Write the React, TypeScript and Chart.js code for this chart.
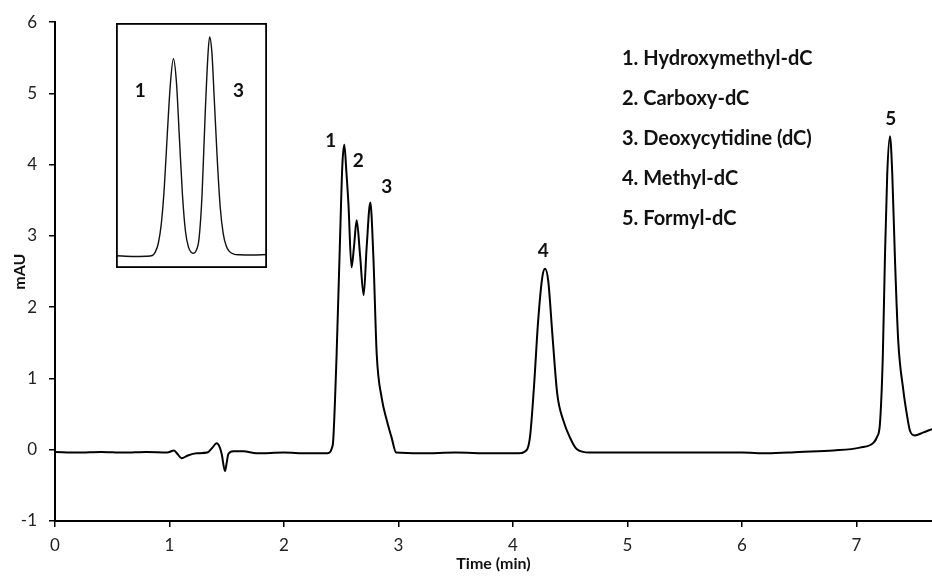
import React, { useEffect, useRef } from 'react';
import { Chart, registerables } from 'chart.js';

Chart.register(...registerables);

// ---- Data ----
const timeMin = [
  0, 0.2, 0.4, 0.6, 0.8, 0.98, 1.04, 1.07, 1.106, 1.16, 1.237, 1.33, 1.37, 1.412, 1.44, 1.456, 1.485, 1.5, 1.514,
  1.557, 1.645, 1.76, 2.0, 2.2, 2.38, 2.42, 2.43, 2.46, 2.49, 2.51, 2.527, 2.545, 2.563, 2.59, 2.611, 2.635,
  2.664, 2.696, 2.722, 2.754, 2.78, 2.81, 2.853, 2.9, 2.94, 2.98, 3.2, 3.5, 3.8, 4.05, 4.1, 4.148, 4.183,
  4.22, 4.256, 4.28, 4.308, 4.346, 4.387, 4.44, 4.498, 4.556, 4.67, 5.0, 5.5, 6.0, 6.22, 6.5, 6.8, 7.03,
  7.15, 7.18, 7.205, 7.23, 7.249, 7.269, 7.293, 7.313, 7.336, 7.365, 7.41, 7.44, 7.467, 7.51, 7.58, 7.66,
];
const absorbance = [
  -0.03, -0.04, -0.03, -0.04, -0.03, -0.04, -0.01, -0.06, -0.12, -0.08, -0.05, -0.04, 0.02, 0.09, 0.03, -0.06, -0.3, -0.18, -0.06,
  -0.02, -0.02, -0.05, -0.04, -0.05, -0.05, 0.03, 0.13, 1.35, 2.98, 4.0, 4.28, 3.9, 3.45, 2.56, 2.84, 3.22,
  2.74, 2.17, 2.84, 3.47, 2.74, 1.34, 0.73, 0.4, 0.17, -0.04, -0.05, -0.04, -0.05, -0.05, -0.03, 0.17, 0.87,
  1.81, 2.42, 2.54, 2.37, 1.58, 0.78, 0.41, 0.17, 0.01, -0.04, -0.04, -0.04, -0.04, -0.05, -0.03, -0.01, 0.03,
  0.1, 0.18, 0.36, 1.29, 2.7, 3.87, 4.4, 3.87, 2.7, 1.53, 0.83, 0.5, 0.27, 0.2, 0.24, 0.29,
];
const xTickValues = [0, 1, 2, 3, 4, 5, 6, 7];

const peakNumbers = ['1', '2', '3', '4', '5'];
const peakLabelTime = [2.408, 2.649, 2.897, 4.265, 7.3];
const peakLabelMAU = [4.33, 4.06, 3.69, 2.79, 4.64];

const compounds = [
  '1. Hydroxymethyl-dC',
  '2. Carboxy-dC',
  '3. Deoxycytidine (dC)',
  '4. Methyl-dC',
  '5. Formyl-dC',
];

// inset trace (relative units 0..100 in both directions)
const insetX = [0, 12, 20, 24, 26, 28, 30, 32, 34, 36, 38, 40, 42, 44, 46, 48, 50, 51.5, 53, 55, 57, 59, 61, 62, 63.5, 65, 67, 69, 71, 73, 75, 78, 82, 90, 100];
const insetY = [5.0, 4.7, 4.8, 5.1, 6.5, 10, 18, 33, 55, 75, 85.4, 76, 53, 30, 15, 8.5, 6.3, 6.0, 7, 12, 30, 62, 88, 94.3, 88, 70, 45, 25, 14, 9, 6.8, 5.7, 5.4, 5.3, 5.5];
const insetLabels = ['1', '3'];
const insetLabelX = [16.1, 81.2];
const insetLabelY = [72.4, 72.4];

const FONT = 'Lato, "Open Sans", "DejaVu Sans", sans-serif';
const INK = '#111';

export default function App() {
  const mainRef = useRef<HTMLCanvasElement | null>(null);
  const insetRef = useRef<HTMLCanvasElement | null>(null);

  useEffect(() => {
    if (!mainRef.current || !insetRef.current) return;

    const labelPlugin = {
      id: 'peakLabels',
      afterDatasetsDraw(chart: any) {
        const { ctx, scales } = chart;
        ctx.save();
        ctx.fillStyle = INK;
        ctx.font = `bold 19px ${FONT}`;
        ctx.textAlign = 'center';
        ctx.textBaseline = 'middle';
        peakNumbers.forEach((p, i) => {
          ctx.fillText(p, scales.x.getPixelForValue(peakLabelTime[i]), scales.y.getPixelForValue(peakLabelMAU[i]));
        });
        ctx.textAlign = 'left';
        ctx.font = `bold 20px ${FONT}`;
        compounds.forEach((c, i) => {
          ctx.fillText(c, 622, 59 + i * 40);
        });
        ctx.restore();
      },
    };

    const main = new Chart(mainRef.current, {
      type: 'line',
      data: {
        datasets: [
          {
            data: timeMin.map((t, i) => ({ x: t, y: absorbance[i] })),
            borderColor: '#000',
            borderWidth: 2,
            pointRadius: 0,
            fill: false,
            cubicInterpolationMode: 'monotone',
          },
        ],
      },
      options: {
        responsive: false,
        animation: false,
        events: [],
        layout: { padding: { top: 21, right: 0, left: 0, bottom: 0 } },
        plugins: { legend: { display: false }, tooltip: { enabled: false } },
        scales: {
          x: {
            type: 'linear',
            min: 0,
            max: 7.66,
            afterBuildTicks: (s: any) => {
              s.ticks = xTickValues.map((v) => ({ value: v }));
            },
            afterFit: (s: any) => {
              s.height = 56;
            },
            ticks: { stepSize: 1, padding: 8, color: '#222', font: { size: 17, family: FONT }, maxRotation: 0, autoSkip: false },
            grid: { drawOnChartArea: false, drawTicks: true, tickLength: 6, color: '#000', lineWidth: 1.5 },
            border: { display: true, color: '#000', width: 2 },
            title: {
              display: true,
              text: 'Time (min)',
              color: INK,
              font: { size: 16, weight: 'bold', family: FONT },
              padding: { top: 0, bottom: 4 },
            },
          },
          y: {
            type: 'linear',
            min: -1,
            max: 6,
            afterFit: (s: any) => {
              s.width = 55;
            },
            ticks: { stepSize: 1, padding: 12, color: '#222', font: { size: 17, family: FONT } },
            grid: { drawOnChartArea: false, drawTicks: true, tickLength: 6, color: '#000', lineWidth: 1.5 },
            border: { display: true, color: '#000', width: 2 },
            title: {
              display: true,
              text: 'mAU',
              color: INK,
              font: { size: 16, weight: 'bold', family: FONT },
              padding: { top: 10, bottom: 0 },
            },
          },
        },
      },
      plugins: [labelPlugin],
    } as any);

    const insetPlugin = {
      id: 'insetDecor',
      afterDatasetsDraw(chart: any) {
        const { ctx, scales, chartArea } = chart;
        ctx.save();
        ctx.strokeStyle = '#000';
        ctx.lineWidth = 1.8;
        ctx.strokeRect(chartArea.left + 0.9, chartArea.top + 0.9, chartArea.right - chartArea.left - 1.8, chartArea.bottom - chartArea.top - 1.8);
        ctx.fillStyle = INK;
        ctx.font = `bold 19px ${FONT}`;
        ctx.textAlign = 'center';
        ctx.textBaseline = 'middle';
        insetLabels.forEach((l, i) => {
          ctx.fillText(l, scales.x.getPixelForValue(insetLabelX[i]), scales.y.getPixelForValue(insetLabelY[i]));
        });
        ctx.restore();
      },
    };

    const inset = new Chart(insetRef.current, {
      type: 'line',
      data: {
        datasets: [
          {
            data: insetX.map((x, i) => ({ x, y: insetY[i] })),
            borderColor: '#111',
            borderWidth: 1.4,
            pointRadius: 0,
            fill: false,
            cubicInterpolationMode: 'monotone',
          },
        ],
      },
      options: {
        responsive: false,
        animation: false,
        events: [],
        layout: { padding: 0 },
        plugins: { legend: { display: false }, tooltip: { enabled: false } },
        scales: {
          x: { type: 'linear', min: 0, max: 100, display: false },
          y: { type: 'linear', min: 0, max: 100, display: false },
        },
      },
      plugins: [insetPlugin],
    } as any);

    return () => {
      main.destroy();
      inset.destroy();
    };
  }, []);

  return (
    <div style={{ position: 'fixed', left: 0, top: 0, width: 932, height: 577, background: '#fff' }}>
      <canvas ref={mainRef} width={932} height={577} style={{ position: 'absolute', left: 0, top: 0, width: 932, height: 577 }} />
      <canvas ref={insetRef} width={151} height={245} style={{ position: 'absolute', left: 116, top: 23, width: 151, height: 245 }} />
    </div>
  );
}
